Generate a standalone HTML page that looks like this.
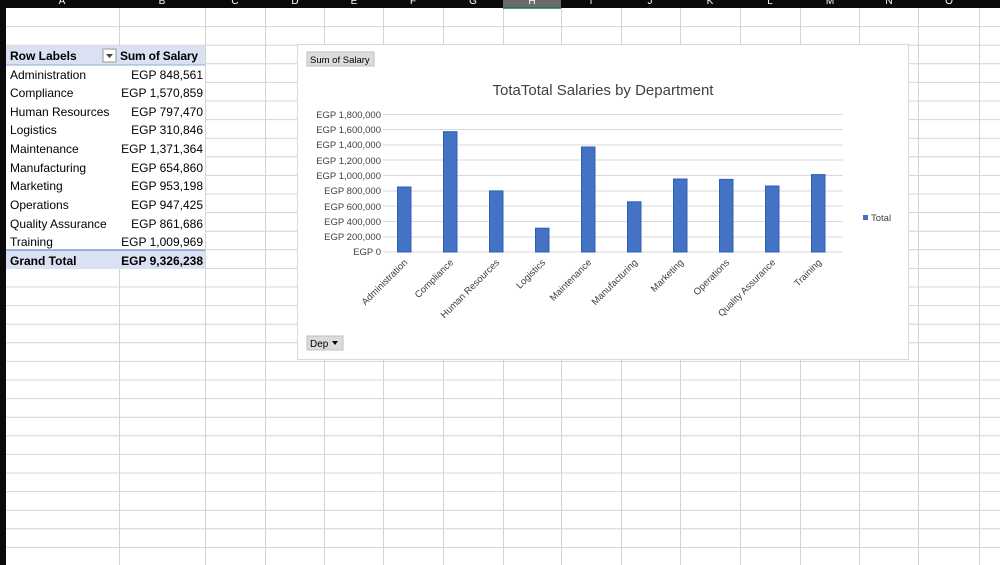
<!DOCTYPE html>
<html><head><meta charset="utf-8"><style>
html,body{margin:0;padding:0;background:#fff;width:1000px;height:565px;overflow:hidden}
svg{display:block}
text{font-family:"Liberation Sans",sans-serif}
</style></head><body>
<svg width="1000" height="565" xmlns="http://www.w3.org/2000/svg">
<rect width="1000" height="565" fill="#fff"/>
<!-- gridlines -->
<g stroke="#d4d4d4" stroke-width="1">
<line x1="119.5" y1="8" x2="119.5" y2="46"/><line x1="119.5" y1="269" x2="119.5" y2="565"/><line x1="205.5" y1="8" x2="205.5" y2="565"/>
<line x1="265.5" y1="8" x2="265.5" y2="565"/><line x1="324.5" y1="8" x2="324.5" y2="565"/>
<line x1="383.5" y1="8" x2="383.5" y2="565"/><line x1="443.5" y1="8" x2="443.5" y2="565"/>
<line x1="503.5" y1="8" x2="503.5" y2="565"/><line x1="561.5" y1="8" x2="561.5" y2="565"/>
<line x1="621.5" y1="8" x2="621.5" y2="565"/><line x1="680.5" y1="8" x2="680.5" y2="565"/>
<line x1="740.5" y1="8" x2="740.5" y2="565"/><line x1="800.5" y1="8" x2="800.5" y2="565"/>
<line x1="859.5" y1="8" x2="859.5" y2="565"/><line x1="918.5" y1="8" x2="918.5" y2="565"/>
<line x1="979.5" y1="8" x2="979.5" y2="565"/>
</g>
<g stroke="#d4d4d4" stroke-width="1" id="rows"></g>
<!-- header -->
<rect x="0" y="0" width="1000" height="8" fill="#0a0a0a"/>
<rect x="503" y="0" width="58" height="8" fill="#6b6b6b"/>
<line x1="503" y1="8" x2="561" y2="8" stroke="#217346" stroke-width="1.5"/>
<g font-size="10" fill="#fff" text-anchor="middle">
<text x="62" y="4">A</text><text x="162" y="4">B</text><text x="235" y="4">C</text><text x="295" y="4">D</text><text x="354" y="4">E</text><text x="413" y="4">F</text><text x="473" y="4">G</text><text x="532" y="4">H</text><text x="591" y="4">I</text><text x="650" y="4">J</text><text x="710" y="4">K</text><text x="770" y="4">L</text><text x="830" y="4">M</text><text x="889" y="4">N</text><text x="949" y="4">O</text>
</g>
<rect x="0" y="0" width="6" height="565" fill="#0a0a0a"/>
<!-- pivot table -->
<rect x="6" y="46" width="199" height="19" fill="#d9e1f2"/>
<line x1="6" y1="65" x2="205" y2="65" stroke="#8ea9db"/>
<rect x="6" y="250" width="199" height="19" fill="#d9e1f2"/>
<line x1="6" y1="250" x2="205" y2="250" stroke="#4472c4"/>
<rect x="103" y="49" width="13" height="13" fill="#fff" stroke="#9a9a9a"/>
<path d="M106 54h7l-3.5 4z" fill="#444"/>
<g font-size="12" fill="#000">
<text x="10" y="60" font-weight="bold">Row Labels</text><text x="120" y="60" font-weight="bold" textLength="78">Sum of Salary</text>
<text x="10" y="79">Administration</text><text x="203" y="79" text-anchor="end">EGP 848,561</text>
<text x="10" y="97">Compliance</text><text x="203" y="97" text-anchor="end">EGP 1,570,859</text>
<text x="10" y="116">Human Resources</text><text x="203" y="116" text-anchor="end">EGP 797,470</text>
<text x="10" y="134">Logistics</text><text x="203" y="134" text-anchor="end">EGP 310,846</text>
<text x="10" y="153">Maintenance</text><text x="203" y="153" text-anchor="end">EGP 1,371,364</text>
<text x="10" y="172">Manufacturing</text><text x="203" y="172" text-anchor="end">EGP 654,860</text>
<text x="10" y="190">Marketing</text><text x="203" y="190" text-anchor="end">EGP 953,198</text>
<text x="10" y="209">Operations</text><text x="203" y="209" text-anchor="end">EGP 947,425</text>
<text x="10" y="228">Quality Assurance</text><text x="203" y="228" text-anchor="end">EGP 861,686</text>
<text x="10" y="246">Training</text><text x="203" y="246" text-anchor="end">EGP 1,009,969</text>
<text x="10" y="265" font-weight="bold">Grand Total</text><text x="203" y="265" text-anchor="end" font-weight="bold">EGP 9,326,238</text>
</g>
<!-- chart -->
<rect x="297.5" y="44.5" width="611" height="315" fill="#fff" stroke="#d9d9d9"/>
<rect x="307" y="52" width="67" height="14" fill="#dcdcdc" stroke="#bfbfbf"/>
<text x="310" y="63" font-size="9.5" fill="#000">Sum of Salary</text>
<rect x="307" y="336" width="36" height="14" fill="#dcdcdc" stroke="#bfbfbf"/>
<text x="310" y="347" font-size="10" fill="#000">Dep</text>
<path d="M332 341h6l-3 4z" fill="#000"/>
<text x="603" y="95" font-size="15" fill="#404040" text-anchor="middle">TotaTotal Salaries by Department</text>
<g stroke="#d9d9d9">
<line x1="383" y1="114.5" x2="843" y2="114.5"/><line x1="383" y1="129.5" x2="843" y2="129.5"/>
<line x1="383" y1="145" x2="843" y2="145"/><line x1="383" y1="160" x2="843" y2="160"/>
<line x1="383" y1="175.5" x2="843" y2="175.5"/><line x1="383" y1="191" x2="843" y2="191"/>
<line x1="383" y1="206" x2="843" y2="206"/><line x1="383" y1="221.5" x2="843" y2="221.5"/>
<line x1="383" y1="237" x2="843" y2="237"/><line x1="383" y1="252" x2="843" y2="252"/>
</g>
<g font-size="9.5" fill="#404040" text-anchor="end">
<text x="381" y="118">EGP 1,800,000</text><text x="381" y="133">EGP 1,600,000</text>
<text x="381" y="148">EGP 1,400,000</text><text x="381" y="164">EGP 1,200,000</text>
<text x="381" y="179">EGP 1,000,000</text><text x="381" y="194">EGP 800,000</text>
<text x="381" y="210">EGP 600,000</text><text x="381" y="225">EGP 400,000</text>
<text x="381" y="240">EGP 200,000</text><text x="381" y="255">EGP 0</text>
</g>
<g fill="#4472c4" stroke="#2f5fb3" stroke-width="1">
<rect x="397.5" y="187" width="13.5" height="65"/>
<rect x="443.5" y="131.7" width="13.5" height="120.3"/>
<rect x="489.5" y="190.9" width="13.5" height="61.1"/>
<rect x="535.5" y="228.2" width="13.5" height="23.8"/>
<rect x="581.5" y="147" width="13.5" height="105"/>
<rect x="627.5" y="201.8" width="13.5" height="50.2"/>
<rect x="673.5" y="179" width="13.5" height="73"/>
<rect x="719.5" y="179.4" width="13.5" height="72.6"/>
<rect x="765.5" y="186" width="13.5" height="66"/>
<rect x="811.5" y="174.6" width="13.5" height="77.4"/>
</g>
<g font-size="9.5" fill="#404040" text-anchor="end">
<text transform="translate(408,263) rotate(-45)">Administration</text>
<text transform="translate(454,263) rotate(-45)">Compliance</text>
<text transform="translate(500,263) rotate(-45)">Human Resources</text>
<text transform="translate(546,263) rotate(-45)">Logistics</text>
<text transform="translate(592,263) rotate(-45)">Maintenance</text>
<text transform="translate(638,263) rotate(-45)">Manufacturing</text>
<text transform="translate(684,263) rotate(-45)">Marketing</text>
<text transform="translate(730,263) rotate(-45)">Operations</text>
<text transform="translate(776,263) rotate(-45)">Quality Assurance</text>
<text transform="translate(822,263) rotate(-45)">Training</text>
</g>
<rect x="863" y="215" width="5" height="5" fill="#4472c4"/>
<text x="871" y="221" font-size="9.5" fill="#404040">Total</text>
</svg>
<script>
var g=document.getElementById('rows');var s='';
for(var i=0;i<30;i++){var y=(8+i*18.6+18.6).toFixed(1);
var x1=(i<2||i>=13)?6:205;
var x2=1000;
s+='<line x1="'+x1+'" y1="'+y+'" x2="'+x2+'" y2="'+y+'"/>';}
g.innerHTML=s;
</script>
</body></html>
